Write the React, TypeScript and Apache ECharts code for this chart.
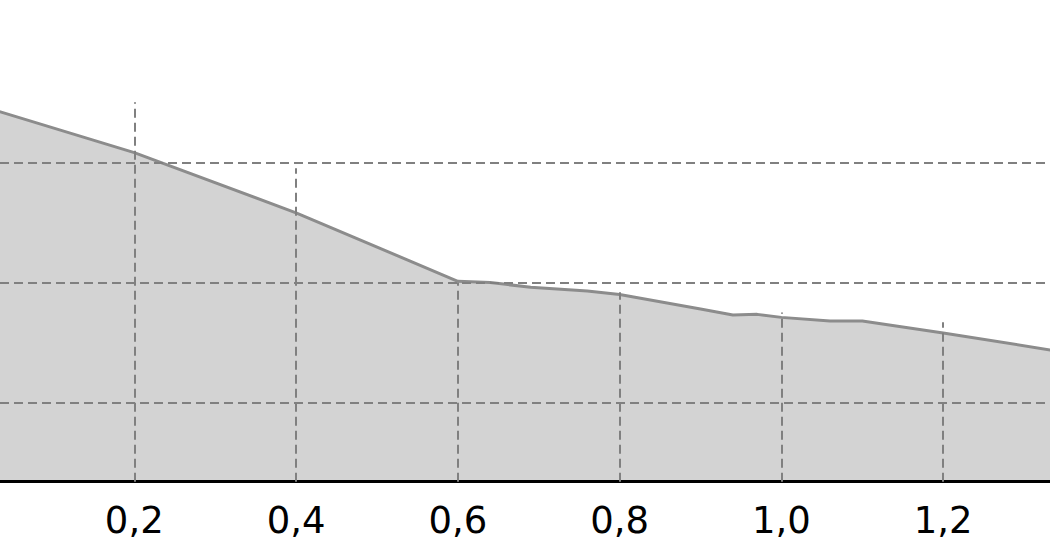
import React, { useEffect, useRef } from "react";
import * as echarts from "echarts";

// Curve: [x, y]
const curveX = [0.0, 0.2, 0.4, 0.6, 0.64, 0.69, 0.76, 0.8, 0.9, 0.94, 0.97, 1.0, 1.06, 1.1, 1.2, 1.35];
const curveY = [3.49, 3.08, 2.58, 2.01, 2.0, 1.96, 1.93, 1.9, 1.78, 1.73, 1.735, 1.71, 1.68, 1.68, 1.58, 1.42];

// Vertical drop lines at x ticks, with their top values
const dropX = [0.2, 0.4, 0.6, 0.8, 1.0, 1.2];
const dropTop = [3.5, 2.95, 2.0, 1.92, 1.75, 1.67];

// Visible axis window
const xMin = 0.034;
const xMax = 1.332;
const yMin = 0.343;
const yMax = 3.851;

const gridColor = "#808080";
const dash = [9, 5];

export default function App() {
  const ref = useRef<HTMLDivElement>(null);

  useEffect(() => {
    if (!ref.current) return;
    const chart = echarts.init(ref.current, undefined, { renderer: "svg" });
    const data = curveX.map((x, i) => [x, curveY[i]]);
    const drops = dropX.map((x, i) => [
      { coord: [x, yMin] },
      { coord: [x, dropTop[i]] },
    ]);
    chart.setOption({
      animation: false,
      grid: { left: 0, right: 0, top: 60, bottom: 78.3, containLabel: false },
      xAxis: {
        type: "value",
        min: xMin,
        max: xMax,
        splitNumber: 6,
        z: 4,
        axisLine: { show: true, lineStyle: { color: "#000", width: 3 } },
        axisTick: { show: false },
        splitLine: { show: false },
        axisLabel: {
          showMinLabel: false,
          showMaxLabel: false,
          fontFamily: "DejaVu Sans",
          fontSize: 37,
          color: "#000",
          margin: 20,
          formatter: (v: number) => v.toFixed(1).replace(".", ","),
        },
      },
      yAxis: {
        type: "value",
        min: yMin,
        max: yMax,
        splitNumber: 3,
        z: 3,
        axisLine: { show: false },
        axisTick: { show: false },
        axisLabel: { show: false },
        splitLine: {
          show: true,
          showMinLine: false,
          showMaxLine: false,
          lineStyle: { color: gridColor, width: 2, type: dash },
        },
      },
      series: [
        {
          type: "line",
          data,
          z: 2,
          symbol: "none",
          lineStyle: { color: "#8c8c8c", width: 3 },
          areaStyle: { color: "#d3d3d3", opacity: 1 },
          markLine: {
            silent: true,
            symbol: ["none", "none"],
            label: { show: false },
            lineStyle: { color: gridColor, width: 2, type: dash },
            data: drops,
          },
        },
      ],
    });
    return () => chart.dispose();
  }, []);

  return (
    <div
      ref={ref}
      style={{ position: "absolute", left: 0, top: 0, width: 1050, height: 560 }}
    />
  );
}
